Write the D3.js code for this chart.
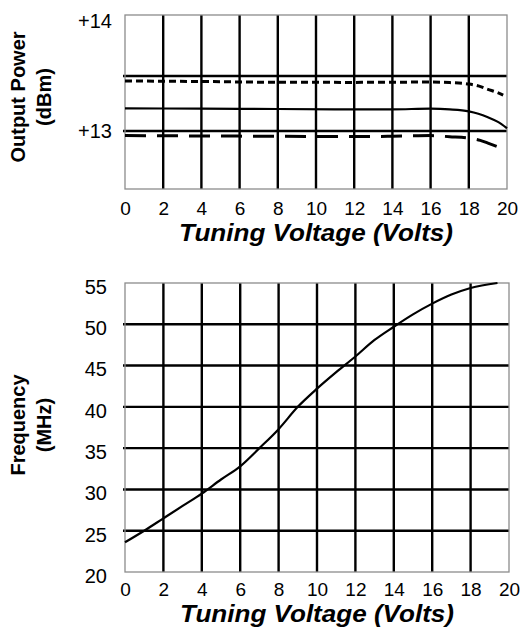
<!DOCTYPE html>
<html>
<head>
<meta charset="utf-8">
<script src="https://d3js.org/d3.v7.min.js"></script>
<style>
  body { margin: 0; background: #fff; }
  text { font-family: "Liberation Sans", Arial, sans-serif; fill: #000; }
  .domain { display: none; }
</style>
</head>
<body>
<script>
// ---- data ----
var voltTicks = [0, 2, 4, 6, 8, 10, 12, 14, 16, 18, 20];

// output power (dBm) vs tuning voltage, three curves
var upperVolts = [0, 4, 8, 12, 16, 17, 18, 18.5, 19, 19.5, 19.8];
var upperPower = [13.455, 13.45, 13.443, 13.442, 13.445, 13.44, 13.427, 13.41, 13.379, 13.35, 13.327];

var midVolts = [0, 4, 8, 12, 14, 16, 17, 18, 18.5, 19, 19.5, 20];
var midPower = [13.206, 13.203, 13.2, 13.197, 13.197, 13.203, 13.197, 13.179, 13.157, 13.125, 13.085, 13.025];

var lowerVolts = [0, 4, 8, 12, 14, 16, 17, 18, 18.6, 19, 19.6];
var lowerPower = [12.958, 12.955, 12.952, 12.95, 12.952, 12.958, 12.948, 12.935, 12.915, 12.89, 12.852];

var powerTicks = [13, 14];
var powerGrid = [13, 13.5];

// frequency (MHz) vs tuning voltage
var freqVolts = [0, 1, 2, 3, 4, 5, 6, 7, 8, 9, 10, 11, 12, 13, 14, 15, 16, 17, 18, 19.4];
var freqMHz = [23.6, 25.0, 26.5, 28.0, 29.5, 31.2, 32.8, 35.0, 37.3, 40.0, 42.2, 44.2, 46.1, 48.1, 49.7, 51.2, 52.5, 53.6, 54.4, 55.0];
var freqTicks = [20, 25, 30, 35, 40, 45, 50, 55];

var W = 521, H = 633;
var svg = d3.select('body').append('svg').attr('width', W).attr('height', H);
svg.append('rect').attr('width', W).attr('height', H).attr('fill', '#fff');

function zip(xs, ys) { return xs.map(function(v, i) { return [v, ys[i]]; }); }

function drawFrame(g, w, h, x, y, yGrid) {
  // vertical grid
  g.append('g').attr('transform', 'translate(0,' + h + ')')
    .call(d3.axisBottom(x).tickValues(voltTicks.slice(1, -1)).tickSize(-h).tickFormat('').offset(0))
    .selectAll('line').attr('stroke', '#000').attr('stroke-width', 2.4);
  // horizontal grid
  g.append('g').attr('transform', 'translate(-2,0)')
    .call(d3.axisLeft(y).tickValues(yGrid).tickSize(-w - 2).tickFormat('').offset(0))
    .selectAll('line').attr('stroke', '#000').attr('stroke-width', 2.4);
  g.append('rect').attr('width', w).attr('height', h)
    .attr('fill', 'none').attr('stroke', '#8c8c8c').attr('stroke-width', 1.3);
}

function xLabels(g, w, h, x, pad, titleY) {
  var ax = g.append('g').attr('transform', 'translate(0,' + h + ')')
    .call(d3.axisBottom(x).tickValues(voltTicks).tickSize(0).tickPadding(pad));
  ax.selectAll('text').style('font-size', '19px');
  g.append('text')
    .attr('x', w / 2).attr('y', h + titleY)
    .attr('text-anchor', 'middle')
    .attr('textLength', 274).attr('lengthAdjust', 'spacingAndGlyphs')
    .style('font-size', '23px').style('font-weight', 'bold').style('font-style', 'italic')
    .text('Tuning Voltage (Volts)');
}

function yTitle(cx, cy, l1, l2) {
  var t = svg.append('text')
    .attr('transform', 'translate(' + cx + ',' + cy + ') rotate(-90)')
    .attr('text-anchor', 'middle')
    .style('font-size', '20px').style('font-weight', 'bold');
  t.append('tspan').attr('x', 0).attr('y', 0).text(l1);
  t.append('tspan').attr('x', 0).attr('y', 26).text(l2);
}

// ---- top chart: output power ----
var t = { left: 125, top: 15, w: 382, h: 174 };
var gTop = svg.append('g').attr('transform', 'translate(' + t.left + ',' + t.top + ')');
var xTop = d3.scaleLinear().domain([0, 20]).range([0, t.w]);
var yTop = d3.scaleLinear().domain([13, 14]).range([116, 6]);

drawFrame(gTop, t.w, t.h, xTop, yTop, powerGrid);

var lineTop = d3.line().x(function(d) { return xTop(d[0]); }).y(function(d) { return yTop(d[1]); })
  .curve(d3.curveMonotoneX);

gTop.append('path').datum(zip(upperVolts, upperPower)).attr('d', lineTop)
  .attr('fill', 'none').attr('stroke', '#000').attr('stroke-width', 3).attr('stroke-dasharray', '7,4');
gTop.append('path').datum(zip(midVolts, midPower)).attr('d', lineTop)
  .attr('fill', 'none').attr('stroke', '#000').attr('stroke-width', 2.2);
gTop.append('path').datum(zip(lowerVolts, lowerPower)).attr('d', lineTop)
  .attr('fill', 'none').attr('stroke', '#000').attr('stroke-width', 3).attr('stroke-dasharray', '21,11');

var yaxTop = gTop.append('g')
  .call(d3.axisLeft(yTop).tickValues(powerTicks).tickSize(0).tickPadding(13)
    .tickFormat(function(d) { return '+' + d; }));
yaxTop.selectAll('text').style('font-size', '20px');

xLabels(gTop, t.w, t.h, xTop, 12.5, 52);
yTitle(25, 97, 'Output Power', '(dBm)');

// ---- bottom chart: frequency ----
var b = { left: 125, top: 283, w: 384, h: 289 };
var gBot = svg.append('g').attr('transform', 'translate(' + b.left + ',' + b.top + ')');
var xBot = d3.scaleLinear().domain([0, 20]).range([0, b.w]);
var yBot = d3.scaleLinear().domain([20, 55]).range([b.h, 0]);

drawFrame(gBot, b.w, b.h, xBot, yBot, freqTicks.slice(1, -1));

var lineBot = d3.line().x(function(d) { return xBot(d[0]); }).y(function(d) { return yBot(d[1]); })
  .curve(d3.curveMonotoneX);
gBot.append('path').datum(zip(freqVolts, freqMHz)).attr('d', lineBot)
  .attr('fill', 'none').attr('stroke', '#000').attr('stroke-width', 2.2);

var yaxBot = gBot.append('g')
  .call(d3.axisLeft(yBot).tickValues(freqTicks).tickSize(0).tickPadding(18));
yaxBot.selectAll('text').style('font-size', '20px').attr('dy', '0.52em');

xLabels(gBot, b.w, b.h, xBot, 10.5, 50);
yTitle(25, 425, 'Frequency', '(MHz)');
</script>
</body>
</html>
